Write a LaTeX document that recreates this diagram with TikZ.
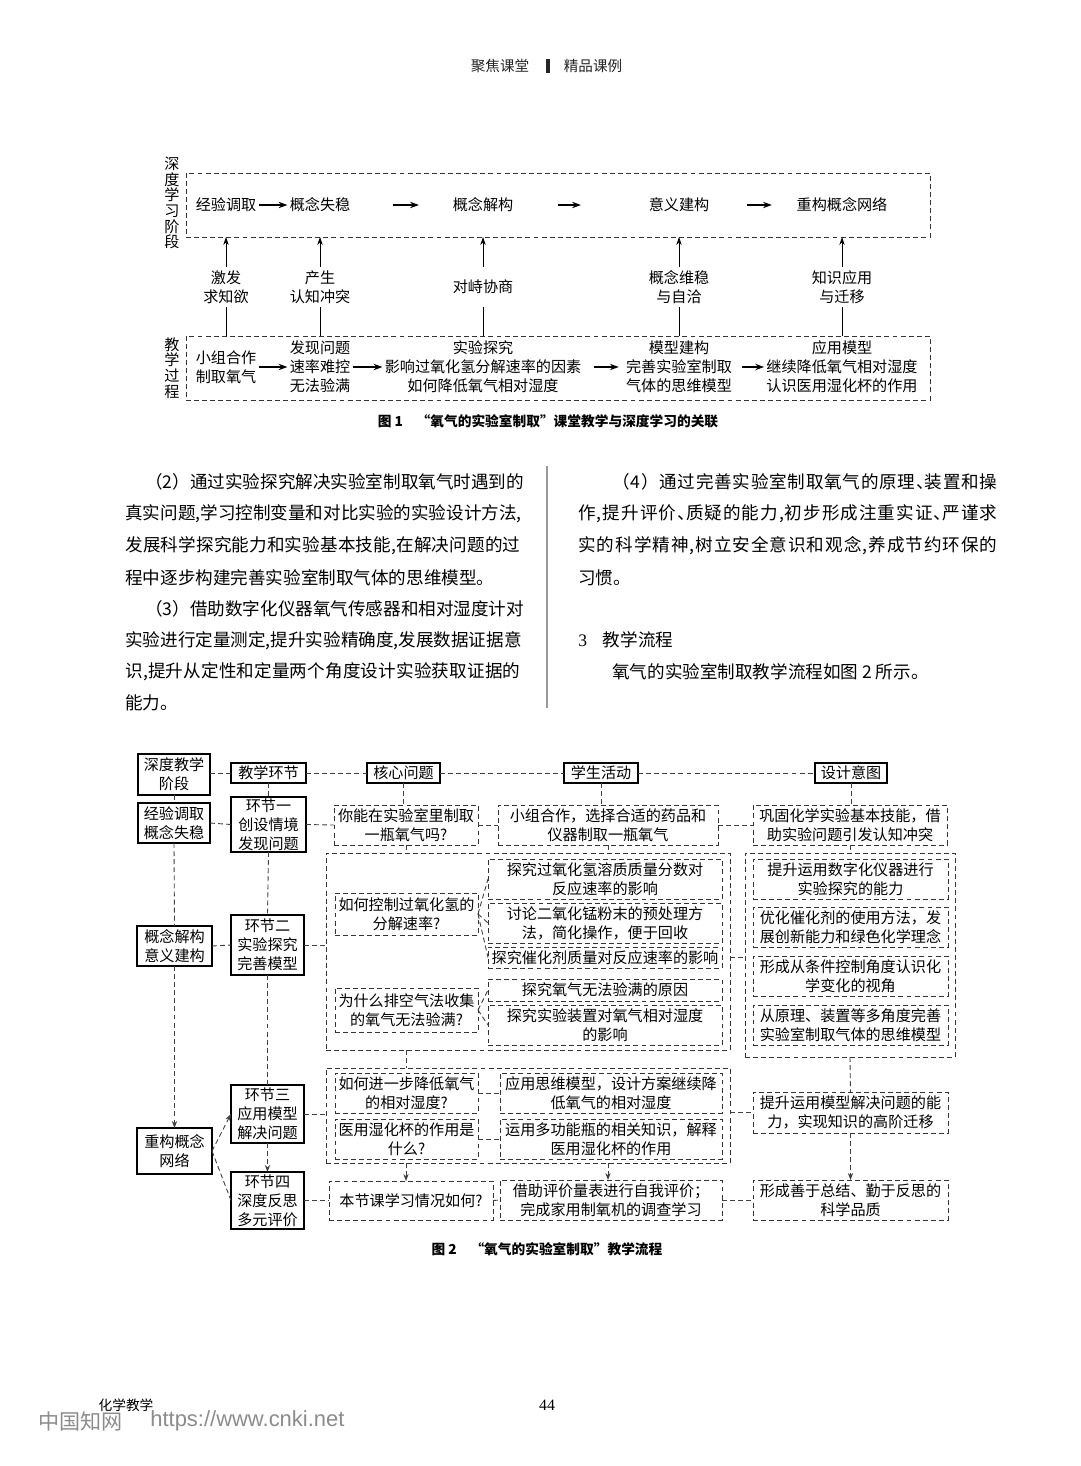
\documentclass[tikz,border=0pt]{standalone}
\usepackage{fontspec}
\setmainfont{Noto Sans CJK SC}
\newfontfamily\sanslatin{Liberation Sans}
\newfontfamily\seriflatin{Liberation Serif}
\usetikzlibrary{arrows.meta}
\newdimen\pxu \pxu=0.02cm
\newcommand{\figfont}{\fontsize{8.6}{10.8}\selectfont}
\newcommand{\vfont}{\fontsize{8.6}{8.9}\selectfont}
\newcommand{\bodyfont}{\fontsize{10}{12}\selectfont}
\newcommand{\capfont}{\fontsize{7.8}{9}\selectfont\bfseries}
\newcommand{\dun}{\makebox[0.45em][l]{、}}
% a justified line: glue between every two characters
\def\spreadfirst#1{#1\spreadrest}
\def\spreadrest#1{\ifx\relax#1\else\hskip 0pt plus 1fil#1\expandafter\spreadrest\fi}
\newcommand{\jline}[2]{\hbox to #1\pxu{\spreadfirst#2\relax}}
% box given by two corners, in page pixels
\newcommand{\boxat}[7]{%
  \node[#6, minimum width={(#4-#2)*0.02cm}, minimum height={(#5-#3)*0.02cm}] (#1) at ({(#2+#4)/2},{(#3+#5)/2}) {#7};
}
\tikzset{
  figtext/.style={font=\figfont, align=center, inner sep=0.04cm},
  lbl/.style={font=\figfont, align=center, inner sep=0pt, minimum height=0.8cm},
  vtext/.style={font=\vfont, align=center, inner sep=0pt},
  groupbox/.style={draw=black!80, dash pattern=on 2.8pt off 1.8pt, line width=0.5pt, inner sep=0pt, outer sep=0pt},
  solidbox/.style={draw=black, line width=0.75pt, font=\figfont, align=center, inner sep=0pt, outer sep=0pt},
  dashbox/.style={groupbox, font=\figfont, align=center},
  arr/.style={-{Stealth[length=5pt,width=3.6pt]}, line width=0.8pt},
  uparr/.style={-{Stealth[length=4.5pt,width=3pt]}, line width=0.45pt},
  thinline/.style={line width=0.45pt},
  link/.style={draw=black!75, dash pattern=on 2.8pt off 1.8pt, line width=0.5pt},
  linkarr/.style={link, -{Stealth[length=4pt,width=3pt]}},
  bodyline/.style={font=\bodyfont, anchor=west, inner sep=0pt},
}

\begin{document}
\begin{tikzpicture}[x=0.02cm,y=-0.02cm]
  \useasboundingbox (0,0) rectangle (1080,1466);
  \fill[white] (0,0) rectangle (1080,1466);

  % page header
  \node[font=\fontsize{8.3}{9}\selectfont, text=black!85, inner sep=0pt] (headl) at (500,66) {聚焦课堂};
  \fill[black!85] (546,59) rectangle (550,73);
  \node[font=\fontsize{8.3}{9}\selectfont, text=black!85, inner sep=0pt] (headr) at (593,66) {精品课例};

  % ---- figure 1 ----
  \boxat{stage}{186}{173}{930}{237}{groupbox}{}
  \boxat{proc}{186}{336}{930}{400}{groupbox}{}
  \node[vtext] (vstage) at (172,203) {深\\度\\学\\习\\阶\\段};
  \node[vtext] (vproc) at (172,368) {教\\学\\过\\程};

  \node[figtext] (t1) at (226,205) {经验调取};
  \node[figtext] (t2) at (320,205) {概念失稳};
  \node[figtext] (t3) at (483,205) {概念解构};
  \node[figtext] (t4) at (679,205) {意义建构};
  \node[figtext] (t5) at (842,205) {重构概念网络};
  \draw[arr] (t1.east) -- (t2.west);
  \draw[arr, shorten <=0.8cm, shorten >=0.63cm] (t2.east) -- (t3.west);
  \draw[arr, shorten <=0.85cm, shorten >=1.31cm] (t3.east) -- (t4.west);
  \draw[arr, shorten <=0.71cm, shorten >=0.45cm] (t4.east) -- (t5.west);

  \node[lbl] (l1) at (226,287) {激发\\求知欲};
  \node[lbl] (l2) at (320,287) {产生\\认知冲突};
  \node[lbl] (l3) at (483,287) {对峙协商};
  \node[lbl] (l4) at (679,287) {概念维稳\\与自洽};
  \node[lbl] (l5) at (842,287) {知识应用\\与迁移};
  \foreach \n in {l1,l2,l3,l4,l5} {
    \draw[thinline] (\n.south) -- (\n.south |- proc.north);
    \draw[uparr] (\n.north) -- (\n.north |- stage.south);
  }

  \node[figtext] (b1) at (226,367) {小组合作\\制取氧气};
  \node[figtext] (b2) at (320,367) {发现问题\\速率难控\\无法验满};
  \node[figtext] (b3) at (483,367) {实验探究\\影响过氧化氢分解速率的因素\\如何降低氧气相对湿度};
  \node[figtext] (b4) at (679,367) {模型建构\\完善实验室制取\\气体的思维模型};
  \node[figtext] (b5) at (842,367) {应用模型\\继续降低氧气相对湿度\\认识医用湿化杯的作用};
  \draw[arr] (b1.east) -- (b2.west);
  \draw[arr] (b2.east) -- (b3.west);
  \draw[arr, shorten <=0.2cm, shorten >=0.1cm] (b3.east) -- (b4.west);
  \draw[arr, shorten <=0.16cm] (b4.east) -- (b5.west);

  \node[font=\capfont, inner sep=0pt] (cap1) at (548,421) {图 1\hspace{1em}“氧气的实验室制取”课堂教学与深度学习的关联};

  % ---- body text ----
  \node[bodyline] (L1) at (145,482) {\jline{375}{（2）通过实验探究解决实验室制取氧气时遇到的}};
  \node[bodyline] (L2) at (125,514) {\jline{395}{真实问题,学习控制变量和对比实验的实验设计方法,}};
  \node[bodyline] (L3) at (125,546) {\jline{395}{发展科学探究能力和实验基本技能,在解决问题的过}};
  \node[bodyline] (L4) at (125,578) {程中逐步构建完善实验室制取气体的思维模型。};
  \node[bodyline] (L5) at (145,609) {\jline{375}{（3）借助数字化仪器氧气传感器和相对湿度计对}};
  \node[bodyline] (L6) at (125,641) {\jline{395}{实验进行定量测定,提升实验精确度,发展数据证据意}};
  \node[bodyline] (L7) at (125,672) {\jline{395}{识,提升从定性和定量两个角度设计实验获取证据的}};
  \node[bodyline] (L8) at (125,703) {能力。};
  \draw[black!40, line width=0.6pt] (547,466) -- (547,708);
  \node[bodyline] (R1) at (612,482) {\jline{385}{（4）通过完善实验室制取氧气的原理\dun 装置和操}};
  \node[bodyline] (R2) at (578,514) {\jline{419}{作,提升评价\dun 质疑的能力,初步形成注重实证\dun 严谨求}};
  \node[bodyline] (R3) at (578,546) {\jline{419}{实的科学精神,树立安全意识和观念,养成节约环保的}};
  \node[bodyline] (R4) at (578,578) {习惯。};
  \node[bodyline] (R5) at (578,640) {{\seriflatin 3}\hspace{9pt}教学流程};
  \node[bodyline] (R6) at (612,672) {氧气的实验室制取教学流程如图 2 所示。};

  % ---- figure 2 ----
  \boxat{h0}{138}{754}{210}{795}{solidbox}{深度教学\\阶段}
  \boxat{h1}{231}{763}{306}{783}{solidbox}{教学环节}
  \boxat{h2}{367}{763}{440}{783}{solidbox}{核心问题}
  \boxat{h3}{564}{763}{638}{783}{solidbox}{学生活动}
  \boxat{h4}{815}{763}{887}{783}{solidbox}{设计意图}

  \boxat{s1}{138}{803}{210}{843}{solidbox}{经验调取\\概念失稳}
  \boxat{k1}{231}{797}{306}{852}{solidbox}{环节一\\创设情境\\发现问题}
  \boxat{q0}{334}{805}{478}{845}{dashbox}{你能在实验室里制取\\一瓶氧气吗?}
  \boxat{a0}{498}{805}{718}{845}{dashbox}{小组合作，选择合适的药品和\\仪器制取一瓶氧气}
  \boxat{d0}{753}{805}{947}{845}{dashbox}{巩固化学实验基本技能，借\\助实验问题引发认知冲突}

  \boxat{grpA}{326}{853}{730}{1050}{groupbox}{}
  \boxat{grpB}{745}{853}{955}{1057}{groupbox}{}
  \boxat{s2}{137}{926}{212}{966}{solidbox}{概念解构\\意义建构}
  \boxat{k2}{231}{915}{304}{975}{solidbox}{环节二\\实验探究\\完善模型}
  \boxat{q1}{335}{893}{478}{935}{dashbox}{如何控制过氧化氢的\\分解速率?}
  \boxat{q2}{335}{988}{478}{1032}{dashbox}{为什么排空气法收集\\的氧气无法验满?}
  \boxat{m1}{488}{859}{722}{899}{dashbox}{探究过氧化氢溶质质量分数对\\反应速率的影响}
  \boxat{m2}{488}{903}{722}{943}{dashbox}{讨论二氧化锰粉末的预处理方\\法，简化操作，便于回收}
  \boxat{m3}{488}{947}{722}{968}{dashbox}{探究催化剂质量对反应速率的影响}
  \boxat{m4}{488}{979}{722}{1001}{dashbox}{探究氧气无法验满的原因}
  \boxat{m5}{488}{1005}{722}{1045}{dashbox}{探究实验装置对氧气相对湿度\\的影响}
  \boxat{g1}{753}{859}{948}{899}{dashbox}{提升运用数字化仪器进行\\实验探究的能力}
  \boxat{g2}{753}{907}{948}{947}{dashbox}{优化催化剂的使用方法，发\\展创新能力和绿色化学理念}
  \boxat{g3}{753}{956}{948}{996}{dashbox}{形成从条件控制角度认识化\\学变化的视角}
  \boxat{g4}{753}{1005}{948}{1045}{dashbox}{从原理、装置等多角度完善\\实验室制取气体的思维模型}

  \boxat{grpC}{326}{1068}{730}{1163}{groupbox}{}
  \boxat{s3}{137}{1128}{212}{1174}{solidbox}{重构概念\\网络}
  \boxat{k3}{231}{1085}{304}{1143}{solidbox}{环节三\\应用模型\\解决问题}
  \boxat{k4}{231}{1172}{304}{1229}{solidbox}{环节四\\深度反思\\多元评价}
  \boxat{n1}{335}{1073}{478}{1113}{dashbox}{如何进一步降低氧气\\的相对湿度?}
  \boxat{n2}{335}{1119}{478}{1159}{dashbox}{医用湿化杯的作用是\\什么?}
  \boxat{o1}{500}{1073}{722}{1113}{dashbox}{应用思维模型，设计方案继续降\\低氧气的相对湿度}
  \boxat{o2}{500}{1119}{722}{1159}{dashbox}{运用多功能瓶的相关知识，解释\\医用湿化杯的作用}
  \boxat{e3}{753}{1092}{948}{1133}{dashbox}{提升运用模型解决问题的能\\力，实现知识的高阶迁移}
  \boxat{r4}{329}{1181}{493}{1220}{dashbox}{本节课学习情况如何?}
  \boxat{p4}{500}{1180}{722}{1220}{dashbox}{借助评价量表进行自我评价；\\完成家用制氧机的调查学习}
  \boxat{e4}{753}{1180}{948}{1220}{dashbox}{形成善于总结、勤于反思的\\科学品质}

  % header row links
  \draw[link] (h1.west -| h0.east) -- (h1.west);
  \draw[link] (h1.east) -- (h2.west);
  \draw[link] (h2.east) -- (h3.west);
  \draw[link] (h3.east) -- (h4.west);
  % columns
  \draw[link] (h0.south) -- (s1.north);
  \draw[link] (s1.south) -- (s2.north);
  \draw[linkarr] (s2.south) -- (s3.north);
  \draw[link] (h1.south) -- (k1.north);
  \draw[link] (k1.south) -- (k2.north);
  \draw[link] (k2.south) -- (k3.north);
  \draw[linkarr] (k3.south) -- (k4.north);
  \draw[link] (h2.south) -- (h2.south |- q0.north);
  \draw[link] (h3.south) -- (h3.south |- a0.north);
  \draw[link] (h4.south) -- (h4.south |- d0.north);
  \draw[link] (q0.south) -- (q0.south |- grpA.north);
  \draw[link] (a0.south) -- (a0.south |- grpA.north);
  \draw[link] (d0.south) -- (d0.south |- grpB.north);
  \draw[link] (q0.south |- grpA.south) -- (q0.south |- grpC.north);
  \draw[link] (grpB.south) -- (e3.north);
  \draw[linkarr] (e3.south) -- (e4.north);
  \draw[linkarr] (q0.south |- grpC.south) -- (q0.south |- r4.north);
  \draw[linkarr] (grpC.south -| a0.south) -- (a0.south |- p4.north);
  % rows
  \draw[link] (s1.east) -- (k1.west);
  \draw[link] (k1.east) -- (q0.west);
  \draw[link] (q0.east) -- (a0.west);
  \draw[link] (a0.east) -- (d0.west);
  \draw[link] (s2.east) -- (k2.west);
  \draw[link] (k2.east) -- (k2.east -| grpA.west);
  \foreach \m in {m1,m2,m3} {\draw[link] (q1.east) -- (\m.west);}
  \foreach \m in {m4,m5} {\draw[link] (q2.east) -- (\m.west);}
  \draw[link] (m3.east -| grpA.east) -- (m3.east -| grpB.west);
  \draw[linkarr] (s3.east) -- (k3.west);
  \draw[link] (s3.east) -- (k4.west);
  \draw[link] (k3.east) -- (k3.east -| grpC.west);
  \draw[link] (n1.east) -- (o1.west);
  \draw[link] (n2.east) -- (o2.west);
  \draw[link] (e3.west -| grpC.east) -- (e3.west);
  \draw[link] (k4.east) -- (r4.west);
  \draw[link] (r4.east) -- (p4.west);
  \draw[link] (p4.east) -- (e4.west);

  \node[font=\capfont, inner sep=0pt] (cap2) at (547,1249) {图 2\hspace{1em}“氧气的实验室制取”教学流程};

  % footer
  \node[font=\fontsize{7.8}{9}\selectfont, inner sep=0pt] (journal) at (126,1405) {化学教学};
  \node[font=\seriflatin\fontsize{9}{10}\selectfont, inner sep=0pt] (pageno) at (547,1405) {44};
  \node[font=\fontsize{12}{13}\selectfont, text=black!45, anchor=west, inner sep=0pt] (wmark) at (38,1421) {中国知网};
  \node[font=\sanslatin\fontsize{12.5}{13}\selectfont, text=black!45, anchor=west, inner sep=0pt] (wurl) at (150,1421) {https://www.cnki.net};
\end{tikzpicture}
\end{document}
